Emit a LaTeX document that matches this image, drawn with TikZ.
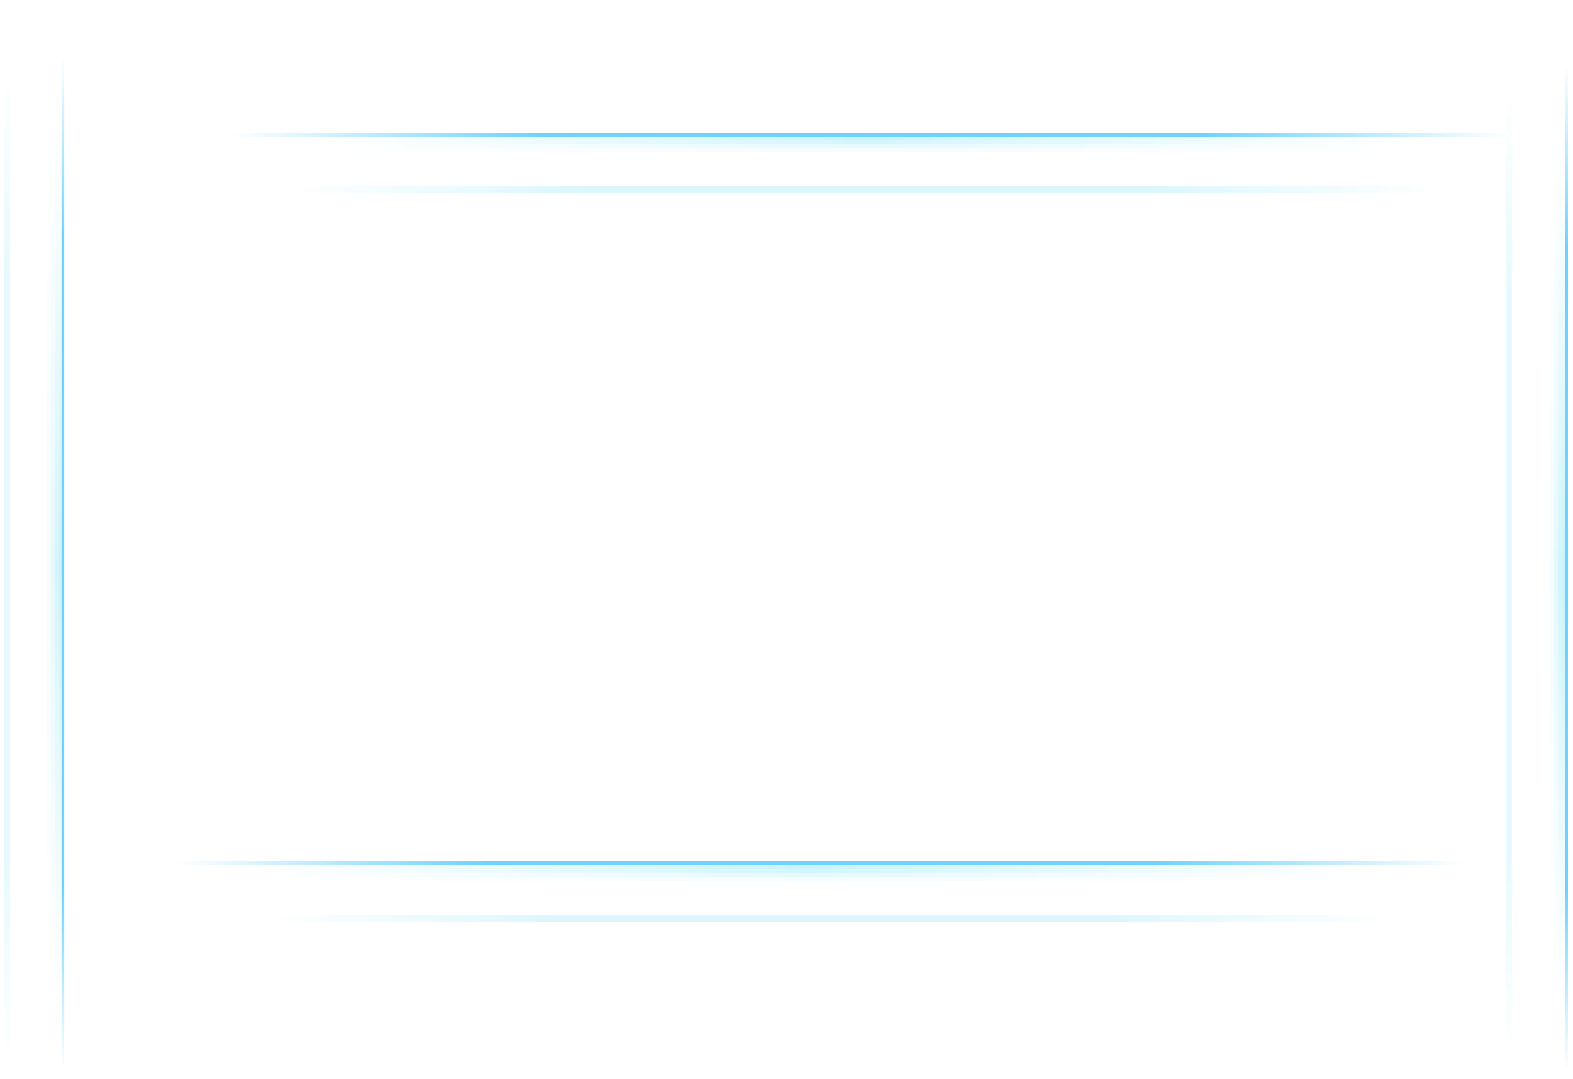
\documentclass[tikz,border=0pt]{standalone}
\definecolor{lineblue}{RGB}{112,210,252}
\definecolor{glowblue}{RGB}{200,243,253}
\definecolor{paleblue}{RGB}{218,247,253}
\pgfdeclarehorizontalshading{bright h}{100bp}{color(0bp)=(white); color(25bp)=(white);
  color(37bp)=(lineblue); color(63bp)=(lineblue); color(75bp)=(white); color(100bp)=(white)}
\pgfdeclareverticalshading{bright v}{100bp}{color(0bp)=(white); color(25bp)=(white);
  color(34bp)=(lineblue); color(66bp)=(lineblue); color(75bp)=(white); color(100bp)=(white)}
\pgfdeclarehorizontalshading{pale h}{100bp}{color(0bp)=(white); color(25bp)=(white);
  color(38bp)=(paleblue); color(62bp)=(paleblue); color(75bp)=(white); color(100bp)=(white)}
\pgfdeclareverticalshading{pale v}{100bp}{color(0bp)=(white); color(25bp)=(white);
  color(36bp)=(paleblue); color(64bp)=(paleblue); color(75bp)=(white); color(100bp)=(white)}
\pgfdeclarehorizontalshading{glow h}{100bp}{color(0bp)=(white); color(25bp)=(white);
  color(50bp)=(glowblue); color(75bp)=(white); color(100bp)=(white)}
\pgfdeclareverticalshading{glow v}{100bp}{color(0bp)=(white); color(25bp)=(white);
  color(50bp)=(glowblue); color(75bp)=(white); color(100bp)=(white)}
\begin{document}
\begin{tikzpicture}[x=0.01cm,y=-0.01cm]
\useasboundingbox (0,0) rectangle (1573,1079);
% glow under the horizontal lines
\foreach \ya/\xa/\xb in {136/330/1400, 864/260/1360}
  \foreach \d/\o in {4/0.9, 8/0.6, 12/0.35, 16/0.2}
    \shade[shading=glow h, opacity=\o] (\xa,\ya) rectangle (\xb,\ya+\d);
% glow left of the vertical lines
\foreach \xa/\ya/\yb in {63/140/990, 1566/160/990}
  \foreach \d/\o in {4/0.9, 8/0.6, 12/0.35, 16/0.2}
    \shade[shading=glow v, opacity=\o] (\xa-\d,\ya) rectangle (\xa,\yb);
% pale lines
\foreach \ya/\xa/\xb in {190/290/1440, 918/270/1390}
  \shade[shading=pale h] (\xa,\ya-3) rectangle (\xb,\ya+3);
\foreach \xa/\ya/\yb in {7/70/1065, 1509/90/1055}
  \shade[shading=pale v, opacity=0.7] (\xa-3,\ya) rectangle (\xa+3,\yb);
% bright lines
\foreach \ya/\xa/\xb in {135/230/1510, 863/175/1465}
  \shade[shading=bright h] (\xa,\ya-1.2) rectangle (\xb,\ya+1.2);
\foreach \xa/\ya/\yb in {63/55/1070, 1566.5/65/1070}
  \shade[shading=bright v] (\xa-1.2,\ya) rectangle (\xa+1.2,\yb);
\end{tikzpicture}
\end{document}
